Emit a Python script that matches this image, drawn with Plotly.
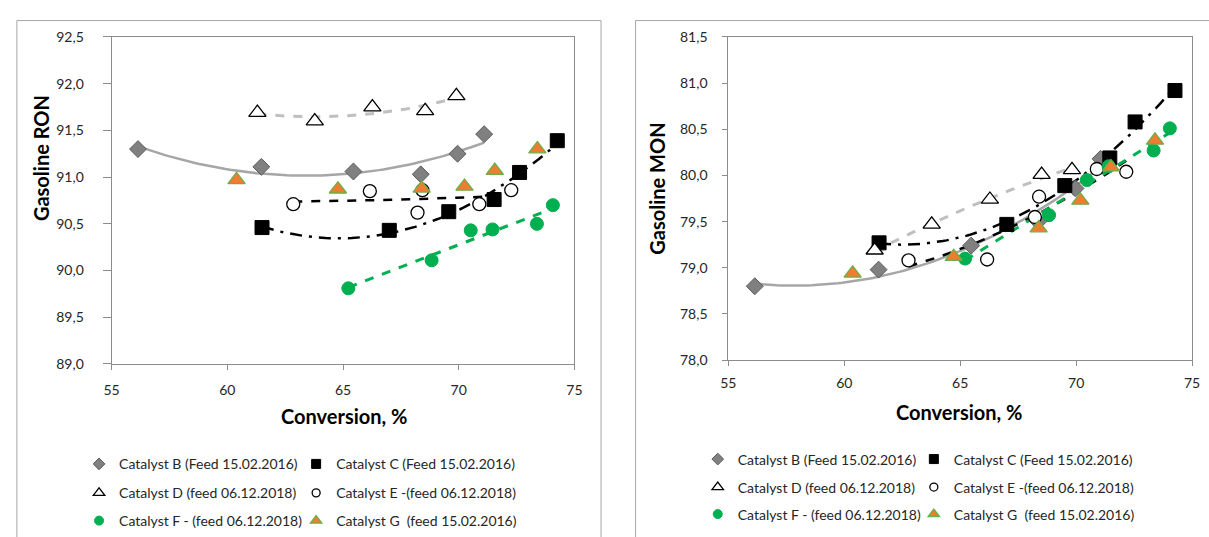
import numpy as np
import plotly.graph_objects as go

# ---------------- data ----------------
names = ["Catalyst B (Feed 15.02.2016)", "Catalyst C (Feed 15.02.2016)",
         "Catalyst D (feed 06.12.2018)", "Catalyst E -(feed 06.12.2018)",
         "Catalyst F - (feed 06.12.2018)", "Catalyst G  (feed 15.02.2016)"]

# RON panel
ron_B_x = [56.14, 61.47, 65.45, 68.36, 69.95, 71.10]
ron_B_y = [91.30, 91.11, 91.06, 91.03, 91.25, 91.46]
ron_C_x = [61.50, 67.00, 69.57, 71.53, 72.63, 74.26]
ron_C_y = [90.46, 90.43, 90.63, 90.76, 91.05, 91.39]
ron_D_x = [61.30, 63.78, 66.27, 68.55, 69.90]
ron_D_y = [91.69, 91.60, 91.75, 91.71, 91.87]
ron_E_x = [62.85, 66.16, 68.22, 68.43, 70.89, 72.27]
ron_E_y = [90.71, 90.85, 90.62, 90.86, 90.71, 90.86]
ron_F_x = [65.23, 68.83, 70.52, 71.46, 73.38, 74.07]
ron_F_y = [89.81, 90.11, 90.43, 90.44, 90.50, 90.70]
ron_G_x = [60.40, 64.78, 68.40, 70.25, 71.56, 73.40]
ron_G_y = [90.97, 90.87, 90.88, 90.90, 91.07, 91.30]

# MON panel
mon_B_x = [56.14, 61.48, 65.47, 68.36, 69.97, 71.05]
mon_B_y = [78.80, 78.98, 79.24, 79.50, 79.86, 80.18]
mon_C_x = [61.50, 67.01, 69.51, 71.45, 72.54, 74.26]
mon_C_y = [79.27, 79.47, 79.89, 80.19, 80.58, 80.92]
mon_D_x = [61.31, 63.77, 66.28, 68.51, 69.82]
mon_D_y = [79.19, 79.47, 79.74, 80.01, 80.06]
mon_E_x = [62.77, 66.16, 68.22, 68.40, 70.89, 72.16]
mon_E_y = [79.08, 79.09, 79.55, 79.77, 80.07, 80.04]
mon_F_x = [65.21, 68.83, 70.46, 71.40, 73.34, 74.04]
mon_F_y = [79.10, 79.57, 79.95, 80.10, 80.27, 80.51]
mon_G_x = [60.36, 64.72, 68.38, 70.18, 71.50, 73.40]
mon_G_y = [78.94, 79.12, 79.43, 79.73, 80.09, 80.38]

x_ticks = [55, 60, 65, 70, 75]
ron_ticks = [89.0, 89.5, 90.0, 90.5, 91.0, 91.5, 92.0, 92.5]
ron_ticktext = ["89,0", "89,5", "90,0", "90,5", "91,0", "91,5", "92,0", "92,5"]
mon_ticks = [78.0, 78.5, 79.0, 79.5, 80.0, 80.5, 81.0, 81.5]
mon_ticktext = ["78,0", "78,5", "79,0", "79,5", "80,0", "80,5", "81,0", "81,5"]

# ---------------- styles ----------------
W, H = 1209, 537
FONT = "Lato"
TXT = "#262626"

marker_styles = [
    dict(symbol="diamond", color="#808080", size=13, line=dict(color="#5a5a5a", width=1)),
    dict(symbol="square", color="#000000", size=14, line=dict(color="#000000", width=1)),
    dict(symbol="triangle-up", color="#ffffff", size=15, line=dict(color="#000000", width=1.3)),
    dict(symbol="circle", color="#ffffff", size=13, line=dict(color="#000000", width=1.3)),
    dict(symbol="circle", color="#00b050", size=13, line=dict(color="#00b050", width=1)),
    dict(symbol="triangle-up", color="#ed7d31", size=15, line=dict(color="#70ad47", width=1.3)),
]
legend_marker_sizes = [9, 9, 10, 8, 9, 10]

trend_styles = [
    dict(color="#a6a6a6", width=2.5, dash="solid"),
    dict(color="#000000", width=2.5, dash="12px,7px,3px,7px"),
    dict(color="#bfbfbf", width=3, dash="dash"),
    dict(color="#000000", width=2.5, dash="dash"),
    dict(color="#00b050", width=3, dash="dash"),
    None,
]
trend_deg = [2, 2, 2, 2, 1, None]


def px2paper_x(p):
    return p / W


def px2paper_y(p):
    return 1 - p / H


fig = go.Figure()

panels = [
    dict(xs=[ron_B_x, ron_C_x, ron_D_x, ron_E_x, ron_F_x, ron_G_x],
         ys=[ron_B_y, ron_C_y, ron_D_y, ron_E_y, ron_F_y, ron_G_y],
         xa="x", ya="y"),
    dict(xs=[mon_B_x, mon_C_x, mon_D_x, mon_E_x, mon_F_x, mon_G_x],
         ys=[mon_B_y, mon_C_y, mon_D_y, mon_E_y, mon_F_y, mon_G_y],
         xa="x2", ya="y2"),
]

# legend slots: x px of legend left edge, y px of row centre
left_cols = [72, 292]
left_rows = [472, 502, 531]
right_cols = [699, 918]
right_rows = [467, 496, 524]

legend_defs = {}
leg_id = 0
for pi, panel in enumerate(panels):
    cols = left_cols if pi == 0 else right_cols
    rows = left_rows if pi == 0 else right_rows
    # trendlines first (drawn under markers)
    for k in range(6):
        if trend_styles[k] is None:
            continue
        xd = np.array(panel["xs"][k])
        yd = np.array(panel["ys"][k])
        coef = np.polyfit(xd, yd, trend_deg[k])
        xt = np.linspace(xd.min(), xd.max(), 80)
        yt = np.polyval(coef, xt)
        fig.add_trace(go.Scatter(x=xt, y=yt, mode="lines", line=trend_styles[k],
                                 showlegend=False, hoverinfo="skip",
                                 xaxis=panel["xa"], yaxis=panel["ya"]))
    for k in range(6):
        fig.add_trace(go.Scatter(x=panel["xs"][k], y=panel["ys"][k], mode="markers",
                                 marker=marker_styles[k], name=names[k], showlegend=False,
                                 xaxis=panel["xa"], yaxis=panel["ya"]))
    for k in range(6):
        leg_id += 1
        lname = "legend" if leg_id == 1 else f"legend{leg_id}"
        ms = dict(marker_styles[k])
        ms["size"] = legend_marker_sizes[k]
        fig.add_trace(go.Scatter(x=[None], y=[None], mode="markers", marker=ms,
                                 name=names[k], showlegend=True, legend=lname,
                                 xaxis=panel["xa"], yaxis=panel["ya"]))
        c = k % 2
        r = k // 2
        legend_defs[lname] = dict(
            x=px2paper_x(cols[c]), y=px2paper_y(rows[r]), xanchor="left", yanchor="middle",
            bgcolor="rgba(0,0,0,0)", borderwidth=0, font=dict(family=FONT, size=14, color=TXT),
            orientation="h", itemwidth=30, tracegroupgap=0)

axis_common = dict(showgrid=False, zeroline=False, showline=True, linecolor="#8c8c8c",
                   linewidth=1, mirror=True, ticks="outside", tickcolor="#8c8c8c",
                   tickfont=dict(family=FONT, size=14, color=TXT))

fig.update_layout(
    width=W, height=H, margin=dict(l=0, r=0, t=0, b=0),
    paper_bgcolor="white", plot_bgcolor="white",
    font=dict(family=FONT, color=TXT),
    xaxis=dict(domain=[px2paper_x(105), px2paper_x(574)], range=[55, 75], tickvals=x_ticks,
               anchor="y", ticklen=5, ticklabelstandoff=8, **axis_common),
    yaxis=dict(domain=[px2paper_y(368), px2paper_y(29)], range=[89, 92.5], tickvals=ron_ticks,
               ticktext=ron_ticktext, anchor="x", ticklen=8, ticklabelstandoff=16, **axis_common),
    xaxis2=dict(domain=[px2paper_x(730), px2paper_x(1200)], range=[55, 75], tickvals=x_ticks,
                anchor="y2", ticklen=5, ticklabelstandoff=5, **axis_common),
    yaxis2=dict(domain=[px2paper_y(364), px2paper_y(29)], range=[78, 81.5], tickvals=mon_ticks,
                ticktext=mon_ticktext, anchor="x2", ticklen=5, ticklabelstandoff=12, **axis_common),
    **legend_defs,
)

# axis titles
title_font = dict(family=FONT, size=20, color="#000000")
fig.add_annotation(text="<b>Conversion, %</b>", x=px2paper_x(340), y=px2paper_y(422),
                   xref="paper", yref="paper", showarrow=False, font=title_font,
                   xanchor="center", yanchor="middle")
fig.add_annotation(text="<b>Conversion, %</b>", x=px2paper_x(964), y=px2paper_y(418),
                   xref="paper", yref="paper", showarrow=False, font=title_font,
                   xanchor="center", yanchor="middle")
fig.add_annotation(text="<b>Gasoline RON</b>", x=px2paper_x(33), y=px2paper_y(155),
                   xref="paper", yref="paper", showarrow=False, font=title_font,
                   textangle=-90, xanchor="center", yanchor="middle")
fig.add_annotation(text="<b>Gasoline MON</b>", x=px2paper_x(658), y=px2paper_y(186),
                   xref="paper", yref="paper", showarrow=False, font=title_font,
                   textangle=-90, xanchor="center", yanchor="middle")

# panel (chart area) borders
border = dict(color="#a6a6a6", width=1)
fig.add_shape(type="rect", xref="paper", yref="paper", x0=px2paper_x(9), x1=px2paper_x(601),
              y0=-0.05, y1=px2paper_y(12), line=border, layer="below")
fig.add_shape(type="rect", xref="paper", yref="paper", x0=px2paper_x(636), x1=1.05,
              y0=-0.05, y1=px2paper_y(12), line=border, layer="below")

fig.write_html("out.html")
